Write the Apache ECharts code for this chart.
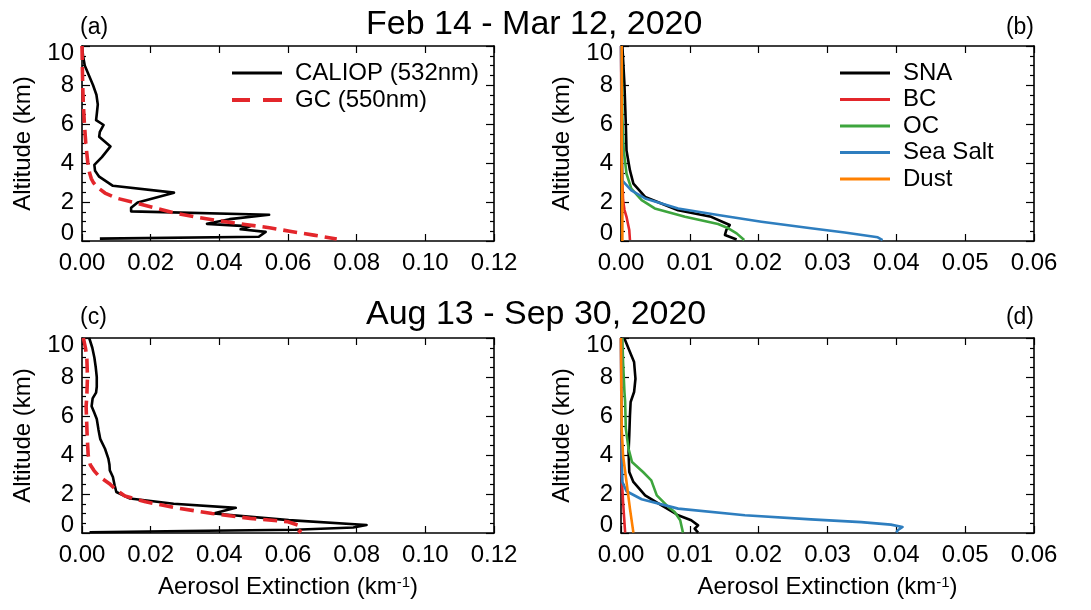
<!DOCTYPE html>
<html>
<head>
<meta charset="utf-8">
<script src="https://cdn.jsdelivr.net/npm/echarts@6/dist/echarts.min.js"></script>
<style>
html, body { margin: 0; padding: 0; background: #fff; }
#chart { width: 1091px; height: 610px; }
</style>
</head>
<body>
<div id="chart"></div>
<script>
// altitude (km) / extinction (km-1)
// (a) Feb 14 - Mar 12
const calA_alt = [10.0, 9.5, 9.0, 8.5, 8.0, 7.5, 7.0, 6.5, 6.2, 5.95, 5.6, 5.35, 4.85, 4.3, 3.9, 3.6, 3.3, 2.83, 2.48, 1.97, 1.7, 1.52, 1.35, 1.12, 0.88, 0.75, 0.6, 0.47, 0.22, 0.12];
const calA_ext = [0.0000, 0.0003, 0.0008, 0.0020, 0.0032, 0.0042, 0.0046, 0.0043, 0.0041, 0.0063, 0.0052, 0.0050, 0.0083, 0.0058, 0.0036, 0.0038, 0.0050, 0.0090, 0.0268, 0.0162, 0.0143, 0.0143, 0.0545, 0.0430, 0.0364, 0.0490, 0.0462, 0.0535, 0.0515, 0.0052];
const gcA_alt = [10.0, 9.0, 8.0, 7.0, 6.0, 5.0, 4.0, 3.5, 3.2, 3.0, 2.75, 2.46, 2.2, 1.95, 1.7, 1.44, 1.2, 1.02, 0.85, 0.68, 0.5, 0.3, 0.1];
const gcA_ext = [0.0000, 0.0001, 0.0002, 0.0004, 0.0007, 0.0011, 0.0017, 0.0022, 0.0027, 0.0033, 0.0045, 0.0067, 0.0100, 0.0157, 0.0212, 0.0269, 0.0340, 0.0405, 0.0475, 0.0546, 0.0605, 0.0675, 0.0742];

// (b) Feb 14 - Mar 12 components
const snaB_alt = [10.0, 8.04, 6.0, 4.64, 3.62, 2.94, 2.26, 1.58, 1.24, 0.82, 0.56, 0.31, 0.08];
const snaB_ext = [0.0002, 0.0005, 0.0007, 0.0008, 0.0013, 0.0018, 0.0035, 0.0083, 0.0131, 0.0158, 0.0153, 0.0151, 0.0168];
const bcB_alt = [10.0, 4.0, 2.1, 1.6, 1.24, 0.9, 0.56, 0.05];
const bcB_ext = [0.0000, 0.0001, 0.0003, 0.0005, 0.0008, 0.0010, 0.0012, 0.0013];
const ocB_alt = [10.0, 6.3, 4.64, 3.45, 2.69, 2.1, 1.67, 1.24, 0.87, 0.65, 0.39, 0.05];
const ocB_ext = [0.0001, 0.0002, 0.0004, 0.0008, 0.0015, 0.0030, 0.0049, 0.0093, 0.0141, 0.0156, 0.0168, 0.0179];
const ssB_alt = [10.0, 3.1, 2.6, 2.18, 1.67, 1.33, 0.99, 0.65, 0.44, 0.19, 0.05];
const ssB_ext = [0.0000, 0.0002, 0.0015, 0.0035, 0.0083, 0.0141, 0.0204, 0.0276, 0.0325, 0.0373, 0.0380];
const duB_alt = [10.0, 5.0, 2.0, 0.0];
const duB_ext = [0.0001, 0.0001, 0.0002, 0.0002];

// (c) Aug 13 - Sep 30
const calC_alt = [10.0, 9.5, 9.0, 8.5, 8.0, 7.5, 7.2, 6.9, 6.5, 6.2, 5.85, 5.3, 4.83, 4.32, 3.8, 3.5, 3.21, 2.87, 2.45, 2.1, 1.77, 1.5, 1.29, 1.0, 0.66, 0.41, 0.28, 0.17, 0.1, 0.04];
const calC_ext = [0.0021, 0.0030, 0.0036, 0.0040, 0.0043, 0.0043, 0.0041, 0.0031, 0.0028, 0.0035, 0.0043, 0.0048, 0.0053, 0.0067, 0.0077, 0.0080, 0.0081, 0.0090, 0.0095, 0.0100, 0.0140, 0.0267, 0.0448, 0.0383, 0.0602, 0.0829, 0.0790, 0.0620, 0.0300, 0.0022];
const gcC_alt = [10.0, 9.5, 9.0, 8.0, 7.0, 6.5, 6.0, 5.0, 4.0, 3.5, 3.2, 2.9, 2.53, 2.2, 1.9, 1.6, 1.31, 1.0, 0.75, 0.58, 0.4, 0.28, 0.1, 0.02];
const gcC_ext = [0.0004, 0.0010, 0.0014, 0.0016, 0.0014, 0.0012, 0.0013, 0.0015, 0.0018, 0.0024, 0.0035, 0.0050, 0.0080, 0.0100, 0.0125, 0.0185, 0.0267, 0.0379, 0.0490, 0.0600, 0.0630, 0.0640, 0.0635, 0.0630];

// (d) Aug 13 - Sep 30 components
const snaD_alt = [9.97, 9.28, 8.77, 7.91, 7.23, 6.72, 6.03, 5.0, 4.15, 3.13, 2.62, 1.93, 1.42, 0.91, 0.65, 0.39, 0.22, 0.02];
const snaD_ext = [0.0005, 0.0013, 0.0019, 0.0021, 0.0019, 0.0014, 0.0013, 0.0012, 0.0011, 0.0012, 0.0018, 0.0035, 0.0059, 0.0083, 0.0102, 0.0112, 0.0107, 0.0112];
const bcD_alt = [10.0, 2.96, 1.59, 0.02];
const bcD_ext = [0.0000, 0.0001, 0.0003, 0.0006];
const ocD_alt = [10.0, 8.77, 7.23, 6.72, 5.35, 4.32, 3.64, 3.13, 2.7, 1.93, 1.33, 1.08, 0.65, 0.02];
const ocD_ext = [0.0002, 0.0003, 0.0005, 0.0006, 0.0007, 0.0011, 0.0016, 0.0032, 0.0044, 0.0052, 0.0069, 0.0078, 0.0086, 0.0090];
const ssD_alt = [10.0, 3.98, 2.62, 2.14, 1.73, 1.25, 0.91, 0.7, 0.56, 0.43, 0.31, 0.14, 0.02];
const ssD_ext = [0.0000, 0.0001, 0.0002, 0.0008, 0.0030, 0.0083, 0.0180, 0.0276, 0.0349, 0.0392, 0.0409, 0.0402, 0.0400];
const duD_alt = [10.0, 5.35, 3.98, 2.62, 1.25, 0.02];
const duD_ext = [0.0000, 0.0001, 0.0003, 0.0008, 0.0013, 0.0018];

const periods = ['Feb 14 - Mar 12, 2020', 'Aug 13 - Sep 30, 2020'];
const panelTags = ['(a)', '(b)', '(c)', '(d)'];
const xMaxes = [0.12, 0.06, 0.12, 0.06];
const xSteps = [0.02, 0.01, 0.02, 0.01];

const FONT = '"Liberation Sans", Arial, Helvetica, sans-serif';
const FS = 24;
const RED = '#e3262b', GREEN = '#3da53d', BLUE = '#2e7ebf', ORANGE = '#ff8000';

const chart = echarts.init(document.getElementById('chart'));

const grids = [
  { left: 82, top: 46, width: 412, height: 195 },
  { left: 621, top: 46, width: 413, height: 195 },
  { left: 82, top: 338, width: 412, height: 195 },
  { left: 621, top: 338, width: 413, height: 195 }
];

const axisLine = { show: true, onZero: false, lineStyle: { color: '#000', width: 1.6 } };
const xAxes = [], yAxes = [];
grids.forEach((g, i) => {
  xAxes.push({
    type: 'value', gridIndex: i, position: 'bottom', min: 0, max: xMaxes[i], interval: xSteps[i],
    axisLine: axisLine, splitLine: { show: false },
    axisTick: { inside: true, length: 7, lineStyle: { color: '#000', width: 1.2 } },
    axisLabel: { color: '#000', fontSize: FS, fontFamily: FONT, margin: 10, formatter: v => v.toFixed(2) },
    name: i >= 2 ? 'Aerosol Extinction (km{sup|-1})' : '',
    nameLocation: 'middle', nameGap: 42,
    nameTextStyle: { color: '#000', fontSize: FS, fontFamily: FONT,
      rich: { sup: { fontSize: 15, fontFamily: FONT, color: '#000', verticalAlign: 'top' } } }
  });
  xAxes.push({
    type: 'value', gridIndex: i, position: 'top', min: 0, max: xMaxes[i], interval: xSteps[i],
    axisLine: axisLine, splitLine: { show: false },
    axisTick: { inside: true, length: 7, lineStyle: { color: '#000', width: 1.2 } },
    axisLabel: { show: false }
  });
  yAxes.push({
    type: 'value', gridIndex: i, position: 'left', min: 0, max: 10, interval: 2,
    axisLine: axisLine, splitLine: { show: false },
    axisTick: { inside: true, length: 8, lineStyle: { color: '#000', width: 1.2 } },
    minorTick: { show: true, splitNumber: 4, length: 4, lineStyle: { color: '#000', width: 1.2 } },
    axisLabel: {
      color: '#000', fontSize: FS, fontFamily: FONT, margin: 8,
      formatter: v => v === 0 ? '{lo|0}' : (v === 10 ? '{hi|10}' : String(v)),
      rich: {
        lo: { fontSize: FS, fontFamily: FONT, color: '#000', padding: [0, 0, 16, 0] },
        hi: { fontSize: FS, fontFamily: FONT, color: '#000', padding: [14, 0, 0, 0] }
      }
    },
    name: 'Altitude (km)', nameLocation: 'middle', nameGap: 47, nameRotate: 90,
    nameTextStyle: { color: '#000', fontSize: FS, fontFamily: FONT }
  });
  yAxes.push({
    type: 'value', gridIndex: i, position: 'right', min: 0, max: 10, interval: 2,
    axisLine: axisLine, splitLine: { show: false },
    axisTick: { inside: true, length: 8, lineStyle: { color: '#000', width: 1.2 } },
    minorTick: { show: true, splitNumber: 4, length: 4, lineStyle: { color: '#000', width: 1.2 } },
    axisLabel: { show: false }
  });
});

const zip = (ext, alt) => ext.map((e, k) => [e, alt[k]]);
const specs = [
  { name: 'CALIOP (532nm)', g: 0, ext: calA_ext, alt: calA_alt, color: '#000', w: 2.6 },
  { name: 'GC (550nm)', g: 0, ext: gcA_ext, alt: gcA_alt, color: RED, w: 3.6, dash: [14, 7] },
  { name: 'SNA', g: 1, ext: snaB_ext, alt: snaB_alt, color: '#000', w: 2.6 },
  { name: 'BC', g: 1, ext: bcB_ext, alt: bcB_alt, color: RED, w: 2.6 },
  { name: 'OC', g: 1, ext: ocB_ext, alt: ocB_alt, color: GREEN, w: 2.6 },
  { name: 'Sea Salt', g: 1, ext: ssB_ext, alt: ssB_alt, color: BLUE, w: 2.6 },
  { name: 'Dust', g: 1, ext: duB_ext, alt: duB_alt, color: ORANGE, w: 2.6 },
  { name: 'CALIOP (532nm)', g: 2, ext: calC_ext, alt: calC_alt, color: '#000', w: 2.6 },
  { name: 'GC (550nm)', g: 2, ext: gcC_ext, alt: gcC_alt, color: RED, w: 3.6, dash: [14, 7] },
  { name: 'SNA', g: 3, ext: snaD_ext, alt: snaD_alt, color: '#000', w: 2.6 },
  { name: 'BC', g: 3, ext: bcD_ext, alt: bcD_alt, color: RED, w: 2.6 },
  { name: 'OC', g: 3, ext: ocD_ext, alt: ocD_alt, color: GREEN, w: 2.6 },
  { name: 'Sea Salt', g: 3, ext: ssD_ext, alt: ssD_alt, color: BLUE, w: 2.6 },
  { name: 'Dust', g: 3, ext: duD_ext, alt: duD_alt, color: ORANGE, w: 2.6 }
];
const series = specs.map(s => ({
  type: 'line', name: s.name, xAxisIndex: s.g * 2, yAxisIndex: s.g * 2,
  data: zip(s.ext, s.alt), symbol: 'none', animation: false, clip: true,
  color: s.color, itemStyle: { color: s.color },
  lineStyle: { color: s.color, width: s.w, type: s.dash || 'solid', cap: 'butt', join: 'round' }
}));

const solidIcon = 'path://M0,0h50v3h-50z';
const dashIcon = 'path://M0,0h18v4h-18z M31,0h19v4h-19z';
const legendText = { color: '#000', fontSize: FS, fontFamily: FONT, lineHeight: 24, padding: [0, 0, 0, 8] };

const titles = [
  { text: periods[0], left: 366, top: 8 },
  { text: periods[1], left: 366, top: 298 }
].map(t => Object.assign(t, { padding: 0, textStyle: { fontSize: 34, fontWeight: 'normal', color: '#000', fontFamily: FONT } }));
[[80, null, 16], [null, 57, 16], [80, null, 306], [null, 57, 306]].forEach((p, i) => {
  const t = { text: panelTags[i], top: p[2], padding: 0, textStyle: { fontSize: 23, fontWeight: 'normal', color: '#000', fontFamily: FONT } };
  if (p[0] !== null) t.left = p[0]; else t.right = p[1];
  titles.push(t);
});

chart.setOption({
  animation: false,
  backgroundColor: '#fff',
  title: titles,
  grid: grids,
  xAxis: xAxes,
  yAxis: yAxes,
  legend: [
    {
      left: 232, top: 61, orient: 'vertical', padding: 0, itemGap: 3, itemWidth: 50, itemHeight: 4,
      selectedMode: false, textStyle: legendText,
      data: [{ name: 'CALIOP (532nm)', icon: solidIcon }, { name: 'GC (550nm)', icon: dashIcon }]
    },
    {
      left: 840, top: 61, orient: 'vertical', padding: 0, itemGap: 2.5, itemWidth: 50, itemHeight: 4,
      selectedMode: false, textStyle: legendText,
      data: ['SNA', 'BC', 'OC', 'Sea Salt', 'Dust'].map(n => ({ name: n, icon: solidIcon }))
    }
  ],
  series: series
});
</script>
</body>
</html>
